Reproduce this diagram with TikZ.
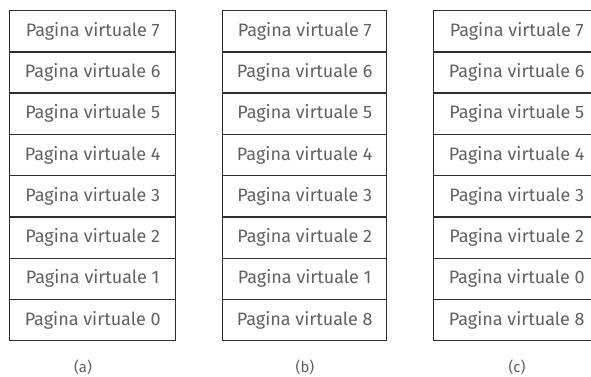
\documentclass[tikz,border=0pt]{standalone}
\usepackage{fontspec}
\setmainfont{Fira Sans}
\begin{document}
\begin{tikzpicture}[x=1pt,y=-1pt,
  pagebox/.style={draw=black!82,line width=1.4pt,minimum width=166pt,minimum height=41.25pt,inner sep=0pt,
    text=black!62,font=\fontsize{18}{20}\selectfont,anchor=north west},
  caption/.style={text=black!62,font=\fontsize{15}{17}\selectfont}]
\useasboundingbox (0,0) rectangle (591,377);
\clip (0,0) rectangle (591,377);
\foreach \t [count=\i from 0] in {7,6,5,4,3,2,1,0}
  \node[pagebox] (a\i) at (9,{10+41.25*\i}) {Pagina virtuale \t};
\foreach \t [count=\i from 0] in {7,6,5,4,3,2,1,8}
  \node[pagebox,minimum width=164pt] (b\i) at (222,{10+41.25*\i}) {Pagina virtuale \t};
\foreach \t [count=\i from 0] in {7,6,5,4,3,2,0,8}
  \node[pagebox] (c\i) at (433,{10+41.25*\i}) {Pagina virtuale \t};
\node[caption] (la) at (83,367) {(a)};
\node[caption] (lb) at (305,367) {(b)};
\node[caption] (lc) at (517,367) {(c)};
\end{tikzpicture}
\end{document}
